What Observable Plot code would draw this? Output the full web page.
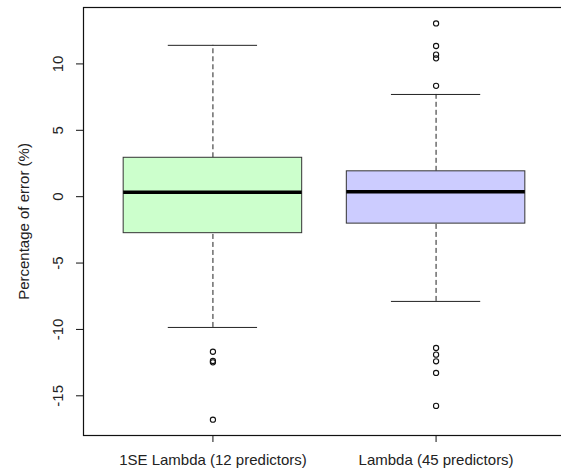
<!DOCTYPE html>
<html>
<head>
<meta charset="utf-8">
<script src="https://cdn.jsdelivr.net/npm/d3@7"></script>
<script src="https://cdn.jsdelivr.net/npm/@observablehq/plot@0.6"></script>
<style>
  html, body { margin: 0; padding: 0; background: #fff; }
  svg { display: block; }
</style>
</head>
<body>
<div id="chart"></div>
<script>
// ---- data ----
const categories = ["1SE Lambda (12 predictors)", "Lambda (45 predictors)"];
const fills = ["#ccffcc", "#ccccff"];
const whiskerLow  = [-9.85, -7.89];
const q1          = [-2.75, -2.03];
const medians     = [0.33, 0.38];
const q3          = [2.93, 1.91];
const whiskerHigh = [11.4, 7.7];
const outliers1 = [-11.68, -12.38, -12.48, -16.8];
const outliers2 = [13.05, 11.35, 10.7, 10.42, 8.35, -11.4, -11.9, -12.4, -13.28, -15.76];
const yTicks = [-15, -10, -5, 0, 5, 10];
const yTitle = "Percentage of error (%)";

// ---- tables built from the arrays ----
const boxes = categories.map((c, i) => ({
  pos: i + 1, cat: c, fill: fills[i],
  lo: whiskerLow[i], q1: q1[i], med: medians[i], q3: q3[i], hi: whiskerHigh[i]
}));
const outs = [
  ...outliers1.map(v => ({pos: 1, v})),
  ...outliers2.map(v => ({pos: 2, v}))
];
const boxHalf = 0.4, capHalf = 0.2;
const font = "'Liberation Sans', Arial, sans-serif";

const plot = Plot.plot({
  width: 561,
  height: 473,
  marginLeft: 83,
  marginRight: -4,
  marginTop: 7,
  marginBottom: 38,
  style: {fontFamily: font, background: "#fff"},
  x: {type: "linear", domain: [0.42, 2.58]},
  y: {domain: [-17.99, 14.25]},
  marks: [
    // whiskers (dashed)
    Plot.ruleX(boxes, {x: "pos", y1: "q3", y2: "hi", stroke: "#222", strokeWidth: 1, strokeDasharray: "5,3"}),
    Plot.ruleX(boxes, {x: "pos", y1: "lo", y2: "q1", stroke: "#222", strokeWidth: 1, strokeDasharray: "5,3"}),
    // whisker caps
    Plot.ruleY(boxes, {y: "hi", x1: d => d.pos - capHalf, x2: d => d.pos + capHalf, stroke: "#222", strokeWidth: 1}),
    Plot.ruleY(boxes, {y: "lo", x1: d => d.pos - capHalf, x2: d => d.pos + capHalf, stroke: "#222", strokeWidth: 1}),
    // boxes
    Plot.rect(boxes, {x1: d => d.pos - boxHalf, x2: d => d.pos + boxHalf, y1: "q1", y2: "q3", fill: "fill", stroke: "#333", strokeWidth: 1}),
    // medians
    Plot.ruleY(boxes, {y: "med", x1: d => d.pos - boxHalf, x2: d => d.pos + boxHalf, stroke: "#000", strokeWidth: 3.5}),
    // outliers
    Plot.dot(outs, {x: "pos", y: "v", r: 2.6, stroke: "#111", strokeWidth: 1.1, fill: "none"}),
    // frame
    Plot.frame({stroke: "#111", strokeWidth: 1.2}),
    // y axis: ticks and rotated labels
    Plot.axisY({ticks: yTicks, tickSize: 7, tickFormat: () => "", label: null, stroke: "#111"}),
    Plot.text(yTicks, {y: d => d, text: d => String(d), frameAnchor: "left", textAnchor: "middle", rotate: -90, dx: -25, fontSize: 15, fill: "#222"}),
    Plot.text([yTitle], {text: d => d, frameAnchor: "left", textAnchor: "middle", rotate: -90, dx: -59, fontSize: 15, fill: "#222"}),
    // x axis
    Plot.axisX({ticks: [1, 2], tickSize: 7, tickPadding: 12, tickFormat: d => categories[d - 1], label: null, fontSize: 15, stroke: "#111", color: "#222"})
  ]
});
document.getElementById("chart").appendChild(plot);
</script>
</body>
</html>
